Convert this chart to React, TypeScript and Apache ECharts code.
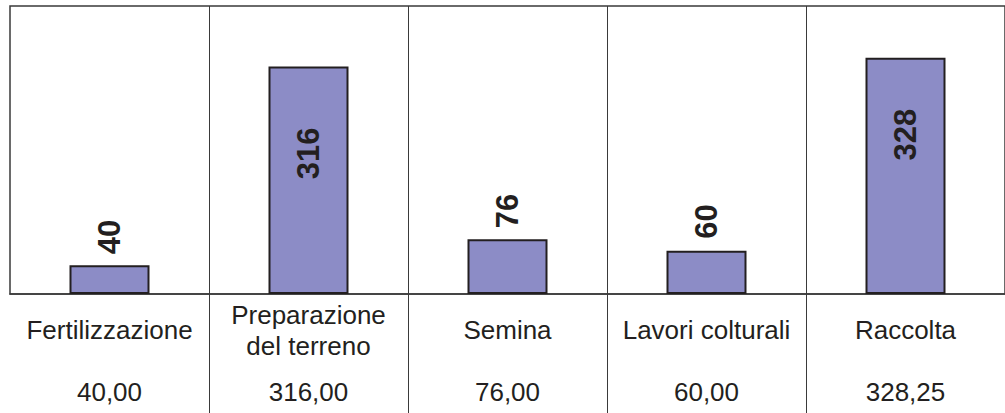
import React, { useEffect, useRef } from "react";
import * as echarts from "echarts";

const categories = [
  "Fertilizzazione",
  "Preparazione\ndel terreno",
  "Semina",
  "Lavori colturali",
  "Raccolta",
];
const values = [40, 316, 76, 60, 328.25];
const valueTableLabels = values.map((v) => v.toFixed(2).replace(".", ","));

// label placement per bar (style, not data)
const labelInside = [false, true, false, false, true];
const labelDistance = [11, 61, 11, 12, 51];

const LINE = "#3a3a3a";
const TXT = "#231F20";
const FONT = "'Liberation Sans', Arial, sans-serif";

export default function App() {
  const ref = useRef<HTMLDivElement>(null);
  useEffect(() => {
    if (!ref.current) return;
    const chart = echarts.init(ref.current, undefined, { renderer: "svg" });
    const skipFirst = (index: number) => index !== 0;
    chart.setOption({
      animation: false,
      grid: [
        {
          left: 10,
          right: -1,
          top: 6,
          bottom: 119,
          show: true,
          borderColor: LINE,
          borderWidth: 1.5,
          backgroundColor: "transparent",
        },
        { left: 10, right: -1, top: 294, bottom: 0 },
      ],
      xAxis: [
        {
          type: "category",
          gridIndex: 0,
          data: categories,
          axisLine: { show: true, lineStyle: { color: LINE, width: 1.5 } },
          axisTick: { show: false },
          splitLine: {
            show: true,
            interval: skipFirst,
            lineStyle: { color: LINE, width: 1 },
          },
          axisLabel: {
            interval: 0,
            margin: 36,
            verticalAlign: "middle",
            fontFamily: FONT,
            fontSize: 26,
            lineHeight: 31,
            color: TXT,
          },
        },
        {
          type: "category",
          gridIndex: 1,
          data: valueTableLabels,
          position: "bottom",
          axisLine: { show: false },
          axisTick: { show: false },
          splitLine: {
            show: true,
            interval: skipFirst,
            lineStyle: { color: LINE, width: 1 },
          },
          axisLabel: {
            interval: 0,
            inside: true,
            margin: 21,
            verticalAlign: "middle",
            fontFamily: FONT,
            fontSize: 26,
            color: TXT,
          },
        },
      ],
      yAxis: [
        { type: "value", gridIndex: 0, min: 0, max: 400, show: false },
        { type: "value", gridIndex: 1, min: 0, max: 1, show: false },
      ],
      series: [
        {
          type: "bar",
          xAxisIndex: 0,
          yAxisIndex: 0,
          barWidth: 80,
          data: values.map((v, i) => ({
            value: v,
            label: labelInside[i]
              ? { position: "insideTop", distance: labelDistance[i], align: "right" }
              : { position: "top", distance: labelDistance[i], align: "left" },
          })),
          itemStyle: {
            color: "#8C8CC6",
            borderColor: TXT,
            borderWidth: 2,
          },
          label: {
            show: true,
            rotate: 90,
            verticalAlign: "middle",
            fontFamily: FONT,
            fontWeight: "bold",
            fontSize: 31,
            color: TXT,
            formatter: (p: any) => String(Math.round(p.value)),
          },
        },
      ],
    });
    return () => chart.dispose();
  }, []);
  return (
    <div
      ref={ref}
      style={{ position: "absolute", left: 0, top: 0, width: 1005, height: 413 }}
    />
  );
}
